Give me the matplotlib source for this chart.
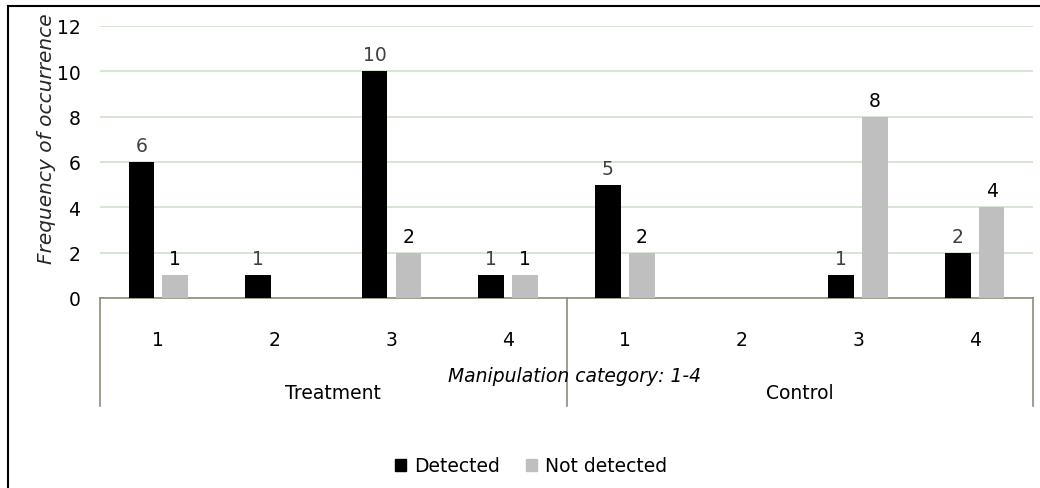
import matplotlib
matplotlib.use("Agg")
import matplotlib.pyplot as plt
from matplotlib.patches import Patch
from matplotlib.lines import Line2D
import numpy as np

categories = ['1', '2', '3', '4', '1', '2', '3', '4']
groups = ['Treatment', 'Control']
detected = [6, 1, 10, 1, 5, 0, 1, 2]
not_detected = [1, 0, 2, 1, 2, 0, 8, 4]
yticks = [0, 2, 4, 6, 8, 10, 12]

plt.rcParams['font.family'] = ['DejaVu Sans']
FS = 13.5
W, H = 1040, 489
fig = plt.figure(figsize=(W / 100, H / 100), dpi=100)
L, R, T, B = 100, 1033, 27, 299
ax = fig.add_axes([L / W, 1 - B / H, (R - L) / W, (B - T) / H])

x = np.arange(len(categories))
bw = 0.22
off = 0.145
ax.bar(x - off, detected, bw, color='#000000', zorder=3)
ax.bar(x + off, not_detected, bw, color='#bfbfbf', zorder=3)

for xi, v in zip(x, detected):
    if v:
        ax.annotate(str(v), (xi - off, v), xytext=(0, 5), textcoords='offset points',
                    ha='center', va='bottom', fontsize=FS, color='#404040')
for xi, v in zip(x, not_detected):
    if v:
        ax.annotate(str(v), (xi + off, v), xytext=(0, 5), textcoords='offset points',
                    ha='center', va='bottom', fontsize=FS, color='#000000')

ax.set_xlim(-0.5, len(categories) - 0.5)
ax.set_ylim(0, 12)
ax.set_yticks(yticks)
ax.set_yticklabels([str(t) for t in yticks], fontsize=FS)
ax.tick_params(axis='y', length=0, pad=14)
ax.set_xticks([])
for s in ['left', 'right', 'top']:
    ax.spines[s].set_visible(False)
ax.spines['bottom'].set_color('#8c8c78')
ax.spines['bottom'].set_linewidth(1.2)
ax.grid(axis='y', color='#cde3cb', linewidth=1.2, zorder=0)
ax.set_axisbelow(True)

ax.set_ylabel('Frequency of occurrence', fontsize=14.5, style='italic', color='#262626')
ax.yaxis.set_label_coords(-0.047, (B - 139) / (B - T))

trans = ax.get_xaxis_transform()
box_bottom = (B - 407) / (B - T)
for xv in [-0.5, 3.5, 7.5]:
    ax.add_line(Line2D([xv, xv], [0, box_bottom], transform=trans, color='#8c8c78',
                       linewidth=1.2, clip_on=False))
tick_y = (B - 341) / (B - T)
for xi, c in zip(x, categories):
    ax.text(xi, tick_y, c, transform=trans, ha='center', va='center', fontsize=FS)
grp_y = (B - 394) / (B - T)
for gi, g in enumerate(groups):
    ax.text(gi * 4 + 1.5, grp_y, g, transform=trans, ha='center', va='center', fontsize=FS)
ax.text((574 - L) / (R - L), (B - 377) / (B - T), 'Manipulation category: 1-4',
        transform=ax.transAxes, ha='center', va='center', fontsize=FS, style='italic')

handles = [Patch(color='#000000', label='Detected'), Patch(color='#bfbfbf', label='Not detected')]
fig.legend(handles=handles, loc='center', bbox_to_anchor=(531 / W, 1 - 467 / H), ncol=2,
           frameon=False, fontsize=FS, handlelength=0.6, handleheight=0.6,
           handletextpad=0.4, columnspacing=1.4)

fig.add_artist(Line2D([8 / W, 8 / W], [0, 1 - 7 / H], transform=fig.transFigure,
                      color='black', linewidth=1.5))
fig.add_artist(Line2D([8 / W, 1], [1 - 7 / H, 1 - 7 / H], transform=fig.transFigure,
                      color='black', linewidth=1.5))

fig.savefig('out.png', dpi=100)
